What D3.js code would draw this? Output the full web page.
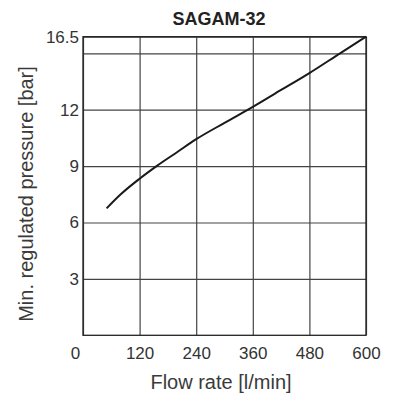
<!DOCTYPE html>
<meta charset="utf-8">
<style>
    body { margin: 0; background: #fff; }
    .grid line { stroke: #444; stroke-width: 1.2px; }
    .grid path { display: none; }
    .tick text { font-family: "Liberation Sans Narrow", "Liberation Sans", sans-serif; font-size: 17px; fill: #333; }
    .lbl { font-family: "Liberation Sans", Arial, sans-serif; font-size: 20px; fill: #3a3a3a; }
</style>
<svg width="394" height="394"></svg>
<script src="https://cdn.jsdelivr.net/npm/d3@7"></script>
<script>
// curve
var flow = [50, 80, 120, 156, 200, 240, 300, 360, 420, 480, 545, 600];
var pressure = [6.75, 7.5, 8.33, 9.0, 9.75, 10.43, 11.3, 12.15, 13.05, 13.95, 15.0, 16.5];

var xTicks = [0, 120, 240, 360, 480, 600];
var yGrid = [3, 6, 9, 12, 15, 16.5];
var yLabels = ["3", "6", "9", "12", "", "16.5"];

var svg = d3.select("svg");

var x = d3.scaleLinear().domain([0, 600]).range([83, 366]);
// the top band (15 -> 16.5) is squeezed in the original
var y = d3.scaleLinear().domain([0, 15, 16.5]).range([335.3, 53.3, 36.7]);

// vertical grid + x labels
var xa = svg.append("g")
    .attr("class", "grid")
    .attr("transform", "translate(0," + y(0) + ")")
    .call(d3.axisBottom(x).tickValues(xTicks).tickSize(-(y(0) - y(16.5))).tickPadding(8).tickFormat(d3.format("d")));
xa.selectAll(".tick text").attr("dy", "0.95em")
    .filter(function(d) { return d === 0; }).attr("dx", -8);

// horizontal grid + y labels
svg.append("g")
    .attr("class", "grid")
    .attr("transform", "translate(" + x(0) + ",0)")
    .call(d3.axisLeft(y).tickValues(yGrid).tickSize(-(x(600) - x(0))).tickPadding(4)
        .tickFormat(function(d, i) { return yLabels[i]; }));

// frame
svg.append("rect")
    .attr("x", x(0)).attr("y", y(16.5))
    .attr("width", x(600) - x(0)).attr("height", y(0) - y(16.5))
    .attr("fill", "none").attr("stroke", "#222").attr("stroke-width", 1.3);

var line = d3.line()
    .x(function(d) { return x(d[0]); })
    .y(function(d) { return y(d[1]); })
    .curve(d3.curveMonotoneX);

svg.append("path")
    .datum(d3.zip(flow, pressure))
    .attr("d", line)
    .attr("fill", "none")
    .attr("stroke", "#1a1a1a")
    .attr("stroke-width", 2);

svg.append("text")
    .attr("x", 219).attr("y", 25)
    .attr("text-anchor", "middle")
    .style("font-family", "Liberation Sans, Arial, sans-serif")
    .style("font-weight", "bold").style("font-size", "18px").style("fill", "#222")
    .text("SAGAM-32");

svg.append("text")
    .attr("class", "lbl")
    .attr("x", 221).attr("y", 389)
    .attr("text-anchor", "middle")
    .text("Flow rate [l/min]");

svg.append("text")
    .attr("class", "lbl")
    .attr("transform", "translate(33,194) rotate(-90)")
    .attr("text-anchor", "middle")
    .text("Min. regulated pressure [bar]");
</script>
